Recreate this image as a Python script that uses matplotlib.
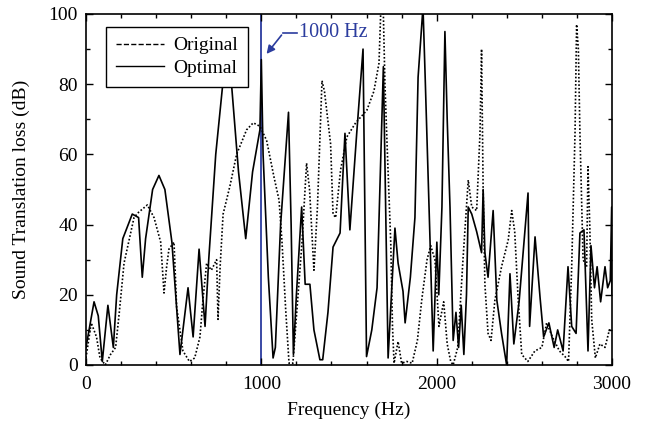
import matplotlib
matplotlib.use("Agg")
import matplotlib.pyplot as plt
from matplotlib.lines import Line2D
from matplotlib.ticker import MultipleLocator

plt.rcParams['font.family'] = ['Liberation Serif', 'DejaVu Serif']
plt.rcParams['font.size'] = 14

# Optimal (solid) – frequency (Hz) and sound transmission loss (dB)
opt_freq = [0, 46, 70, 93, 125, 156, 175, 210, 264, 300, 321, 340, 380, 416, 450, 490, 536,
            582, 611, 645, 679, 700, 740, 790, 830, 870, 911, 950, 992, 1000, 1010, 1040, 1067,
            1080, 1110, 1155, 1170, 1183, 1200, 1230, 1250, 1277, 1300, 1334, 1350, 1380, 1409,
            1449, 1477, 1505, 1544, 1580, 1600, 1630, 1660, 1696, 1723, 1762, 1780, 1808, 1820,
            1850, 1876, 1894, 1922, 1935, 1962, 1980, 2001, 2012, 2030, 2047, 2060, 2076, 2094,
            2110, 2125, 2140, 2155, 2170, 2180, 2200, 2228, 2256, 2265, 2275, 2293, 2322, 2343,
            2370, 2399, 2418, 2440, 2470, 2521, 2530, 2561, 2590, 2610, 2640, 2670, 2690, 2721,
            2749, 2770, 2795, 2817, 2840, 2863, 2880, 2900, 2915, 2935, 2960, 2975, 2990, 2998, 3000]
opt_db = [5, 18, 14, 1, 17, 5, 20, 36, 43, 42, 25, 36, 50, 54, 50, 35, 3,
          22, 8, 33, 11, 30, 60, 85, 80, 55, 36, 55, 67, 87, 60, 25, 2,
          5, 40, 72, 40, 3, 20, 45, 23, 23, 10, 1.5, 1.5, 15, 33.6,
          37.6, 66, 38.5, 66, 90, 2.4, 10, 22, 85, 2, 39, 29, 21, 12,
          25, 42, 82, 102, 81, 35.6, 4, 35, 20, 45, 95, 70, 45, 7,
          15, 5, 17, 3, 20, 45, 43, 38, 32, 50, 32, 25, 44, 18.5,
          9, 0, 26, 6, 18, 49, 11, 36.5, 19, 8, 12, 5, 10, 4,
          28, 11, 9, 37.6, 38.5, 4, 34, 22, 28, 18, 28, 22, 24, 45, 20]

# Original (dotted)
org_freq = [0, 30, 60, 80, 110, 140, 169, 190, 217, 274, 300, 350, 388, 426, 445, 460, 473,
            502, 517, 553, 590, 620, 650, 667, 688, 715, 745, 753, 765, 782, 821, 859, 916,
            954, 992, 1030, 1072, 1101, 1118, 1139, 1158, 1180, 1203, 1232, 1258, 1275, 1300,
            1320, 1346, 1360, 1395, 1409, 1424, 1452, 1488, 1538, 1602, 1642, 1671, 1682, 1695,
            1705, 1717, 1738, 1748, 1757, 1780, 1800, 1830, 1860, 1890, 1916, 1945, 1966, 1990,
            2013, 2040, 2060, 2080, 2094, 2120, 2150, 2180, 2200, 2228, 2247, 2256, 2265, 2275,
            2293, 2310, 2332, 2370, 2408, 2428, 2445, 2465, 2485, 2520, 2560, 2600, 2627, 2660,
            2700, 2732, 2752, 2770, 2789, 2798, 2808, 2817, 2835, 2855, 2863, 2873, 2884, 2905,
            2931, 2960, 2985, 3000]
org_db = [2, 12, 8, 2, 0, 3, 5, 15, 29, 42, 43.5, 45.6, 42, 35, 20.5, 28, 33,
          35, 16.5, 4, 1, 2, 8, 18.5, 29, 27, 30, 13, 28, 43, 51, 60, 67,
          69, 68, 64, 53.6, 47, 35, 15.7, 0.5, 0.5, 15.7, 35, 57.5, 50, 27,
          45, 81, 78, 63, 43, 42, 55.6, 65, 69, 72.6, 78, 86, 102, 102,
          80, 63, 35, 11, 0.5, 6.7, 0.5, 1, 0.5, 7, 19, 30, 34, 30,
          11, 18, 6, 1, 0, 5, 30, 52.7, 45, 44, 66, 90, 50, 23,
          9, 7, 18.5, 28, 35.6, 44, 38, 18.5, 3, 1, 4, 5, 12, 8,
          4, 2.4, 1, 28, 66, 97, 90, 66, 30, 28, 56.5, 40, 13, 2,
          6, 5, 10, 10]

x_ticks = [0, 1000, 2000, 3000]
y_ticks = [0, 20, 40, 60, 80, 100]
mark_freq = 1000
blue = '#2b3c9e'

fig = plt.figure(figsize=(6.46, 4.29), dpi=100)
ax = fig.add_axes([0.1331, 0.1492, 0.8143, 0.8182])

ax.axvline(mark_freq, color=blue, lw=1.3, zorder=1)
ax.plot(org_freq, org_db, color='black', lw=1.2, linestyle=(0, (1, 1.2)), zorder=2)
ax.plot(opt_freq, opt_db, color='black', lw=1.2, zorder=3)

ax.set_xlim(0, 3000)
ax.set_ylim(0, 100)
ax.set_xticks(x_ticks)
ax.set_yticks(y_ticks)
ax.xaxis.set_minor_locator(MultipleLocator(200))
ax.yaxis.set_minor_locator(MultipleLocator(10))
ax.tick_params(which='both', direction='in', top=True, right=True, labelsize=14)
ax.tick_params(which='major', length=5, width=1)
ax.tick_params(which='minor', length=3, width=1)
ax.tick_params(axis='x', which='major', pad=8)
ax.tick_params(axis='y', which='major', pad=6)
for s in ax.spines.values():
    s.set_linewidth(1.2)

ax.set_xlabel('Frequency (Hz)', fontsize=14, labelpad=6)
ax.set_ylabel('Sound Translation loss (dB)', fontsize=14, labelpad=13)

# Annotation for 1000 Hz
ax.plot([1205, 1125], [94.6, 94.6], color=blue, lw=1.2, zorder=5)
ax.annotate('', xy=(1020, 88), xytext=(1125, 94.6),
            arrowprops=dict(arrowstyle='-|>', color=blue, lw=1.2, mutation_scale=12),
            zorder=5)
ax.text(1215, 94.6, '1000 Hz', color=blue, fontsize=14.5, va='center', ha='left', zorder=5)

handles = [Line2D([0], [0], color='black', lw=1.0, linestyle='--'),
           Line2D([0], [0], color='black', lw=1.0)]
leg = ax.legend(handles, ['Original', 'Optimal'], loc='upper left',
                bbox_to_anchor=(0.038, 0.963), borderaxespad=0, fancybox=False,
                framealpha=1, edgecolor='black', fontsize=14, handlelength=2.5,
                borderpad=0.5, labelspacing=0.25, handletextpad=0.45)
leg.get_frame().set_linewidth(1.0)
leg.set_zorder(10)

fig.savefig('out.png', dpi=100)
